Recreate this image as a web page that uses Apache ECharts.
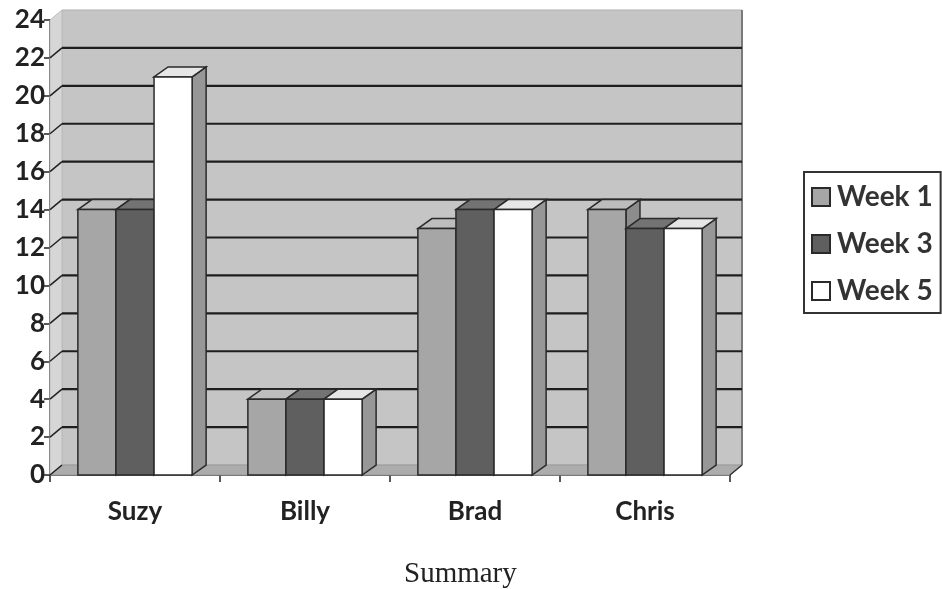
<!DOCTYPE html>
<html><head><meta charset="utf-8">
<script src="https://cdn.jsdelivr.net/npm/echarts@6/dist/echarts.min.js"></script>
<style>html,body{margin:0;padding:0;background:#fff}#c{width:942px;height:589px}</style>
</head><body><div id="c"></div>
<script>
const categories = ['Suzy', 'Billy', 'Brad', 'Chris'];
const seriesNames = ['Week 1', 'Week 3', 'Week 5'];
const week1 = [14, 4, 13, 14];
const week3 = [14, 4, 14, 13];
const week5 = [21, 4, 14, 13];
const yTicks = [0, 2, 4, 6, 8, 10, 12, 14, 16, 18, 20, 22, 24];
const titleText = 'Summary';

const DX = 12, DY = -10;       // depth of the back wall
const BDX = 14, BDY = -10;     // depth of the bars
const faces = [
  {front: '#a6a6a6', side: '#8c8c8c', top: '#bdbdbd'},
  {front: '#5f5f5f', side: '#4a4a4a', top: '#737373'},
  {front: '#ffffff', side: '#979797', top: '#e6e6e6'}
];
const edge = '#2a2a2a';

function frameRender(params, api) {
  const cs = params.coordSys;
  const x0 = cs.x, x1 = cs.x + cs.width;
  const yTop = api.coord([0, yTicks[yTicks.length - 1]])[1];
  const yBot = api.coord([0, 0])[1];
  const ch = [];
  ch.push({type: 'polygon', shape: {points: [[x0 + DX, yTop + DY], [x1 + DX, yTop + DY], [x1 + DX, yBot + DY], [x0 + DX, yBot + DY]]},
    style: {fill: '#c5c5c5', stroke: '#b0b0b0', lineWidth: 1}});
  ch.push({type: 'polygon', shape: {points: [[x0, yTop], [x0 + DX, yTop + DY], [x0 + DX, yBot + DY], [x0, yBot]]},
    style: {fill: '#d6d6d6', stroke: '#bdbdbd', lineWidth: 1}});
  ch.push({type: 'polygon', shape: {points: [[x0, yBot], [x0 + DX, yBot + DY], [x1 + DX, yBot + DY], [x1, yBot]]},
    style: {fill: '#acacac', stroke: '#999', lineWidth: 1}});
  ch.push({type: 'line', shape: {x1: x1 + DX, y1: yTop + DY, x2: x1 + DX, y2: yBot + DY}, style: {stroke: '#7a7a7a', lineWidth: 2}});
  ch.push({type: 'line', shape: {x1: x1, y1: yBot, x2: x1 + DX, y2: yBot + DY}, style: {stroke: '#333', lineWidth: 1.5}});
  yTicks.forEach(function (v) {
    const y = api.coord([0, v])[1];
    if (v > 0 && v < yTicks[yTicks.length - 1]) {
      ch.push({type: 'line', shape: {x1: x0 + DX, y1: y + DY, x2: x1 + DX, y2: y + DY}, style: {stroke: '#1e1e1e', lineWidth: 2.2}});
    }
    if (v < yTicks[yTicks.length - 1]) {
      ch.push({type: 'line', shape: {x1: x0, y1: y, x2: x0 + DX, y2: y + DY}, style: {stroke: '#222', lineWidth: 1.5}});
    }
  });
  return {type: 'group', children: ch};
}

function makeBarRender(k) {
  return function (params, api) {
    const ci = api.value(0), v = api.value(1);
    const band = api.size([1, 0])[0];
    const bw = band * 0.224;
    const c = api.coord([ci, v]);
    const b = api.coord([ci, 0]);
    const xl = c[0] + (k - 1) * bw - bw / 2, xr = xl + bw;
    const yt = c[1], yb = b[1];
    const f = faces[k];
    return {type: 'group', children: [
      {type: 'polygon', shape: {points: [[xr, yt], [xr + BDX, yt + BDY], [xr + BDX, yb + BDY], [xr, yb]]},
        style: {fill: f.side, stroke: edge, lineWidth: 1.5}},
      {type: 'polygon', shape: {points: [[xl, yt], [xl + BDX, yt + BDY], [xr + BDX, yt + BDY], [xr, yt]]},
        style: {fill: f.top, stroke: edge, lineWidth: 1.5}},
      {type: 'rect', shape: {x: xl, y: yt, width: bw, height: yb - yt},
        style: {fill: f.front, stroke: edge, lineWidth: 1.5}}
    ]};
  };
}

const weekData = [week1, week3, week5];
const series = [{
  type: 'custom', name: 'frame', renderItem: frameRender, data: [[0, 0]], z: 1, silent: true,
  encode: {x: 0, y: 1}
}];
weekData.forEach(function (arr, k) {
  series.push({
    type: 'custom', name: seriesNames[k], renderItem: makeBarRender(k), z: 3 + k,
    itemStyle: {color: faces[k].front, borderColor: edge, borderWidth: 1.5},
    encode: {x: 0, y: 1},
    data: arr.map(function (v, i) { return [i, v]; })
  });
});

const chart = echarts.init(document.getElementById('c'), null, {renderer: 'canvas'});
chart.setOption({
  animation: false,
  backgroundColor: '#ffffff',
  title: {text: titleText, left: 399, top: 555,
    textStyle: {fontFamily: 'Liberation Serif', fontSize: 29, fontWeight: 'normal', color: '#222'}},
  grid: {left: 50, right: 212, top: 20, bottom: 114},
  xAxis: {type: 'category', data: categories, boundaryGap: true,
    axisLine: {show: true, lineStyle: {color: '#222', width: 1.5}},
    axisTick: {show: true, length: 7, lineStyle: {color: '#222', width: 1.5}},
    axisLabel: {fontFamily: 'Lato', fontWeight: 'bold', fontSize: 26, color: '#222', margin: 24},
    splitLine: {show: false}},
  yAxis: {type: 'value', min: 0, max: 24, interval: 2,
    axisLine: {show: true, lineStyle: {color: '#222', width: 1.5}},
    axisTick: {show: true, length: 6, lineStyle: {color: '#222', width: 1.5}},
    axisLabel: {fontFamily: 'Lato', fontWeight: 'bold', fontSize: 26, color: '#222', margin: 5},
    splitLine: {show: false}},
  legend: {data: seriesNames, orient: 'vertical', left: 804, top: 172,
    padding: [11, 8, 8, 7], itemGap: 19, itemWidth: 18, itemHeight: 18,
    borderColor: '#333', borderWidth: 2, backgroundColor: '#fff',
    textStyle: {fontFamily: 'Lato', fontWeight: 'bold', fontSize: 28, color: '#333', padding: [0, 0, 0, 2]},
    icon: 'rect'},
  series: series
});
</script></body></html>
